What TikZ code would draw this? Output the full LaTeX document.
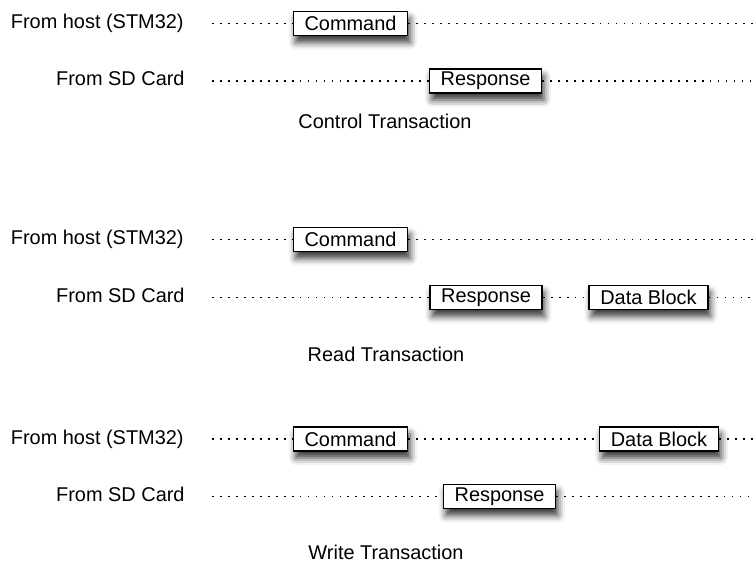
\documentclass[tikz,border=0pt]{standalone}
\usepackage{fontspec}
\setmainfont{Liberation Sans}
\usetikzlibrary{shadows.blur}

\begin{document}
\begin{tikzpicture}[
    x=0.5bp, y=-0.5bp,
    font=\fontsize{10}{12}\selectfont,
    msg/.style={rectangle, draw=black, line width=0.75pt, fill=white, minimum height=12bp, inner xsep=5.6bp, inner ysep=1bp,
      blur shadow={shadow xshift=1.2pt, shadow yshift=-3.5pt, shadow blur radius=3.5pt, shadow opacity=80}},
    wire/.style={draw=black, line width=0.75pt, dash pattern=on 0.9pt off 3.1pt},
    who/.style={anchor=base east, inner sep=0pt},
    ttl/.style={anchor=base, inner sep=0pt},
  ]
  \useasboundingbox (0,0) rectangle (755,566);
  % ------------------------------------------------------------------ Control transaction
  \begin{scope}[shift={(0,23.5)}]
    \node[who] (host1) at (184,5) {From host (STM32)};
    \node[who] (card1) at (185,62.5) {From SD Card};
    \coordinate (h1a) at (212,0);
    \coordinate (h1b) at (755,0);
    \coordinate (s1a) at (212,57.5);
    \coordinate (s1b) at (755,57.5);
    \node[msg] (cmd1) at (350.5,0) {Command};
    \node[msg] (rsp1) at (485.5,57.5) {Response};
    \draw[wire] (h1a) -- (cmd1) -- (h1b);
    \draw[wire] (s1a) -- (rsp1) -- (s1b);
    \node[ttl] (ctl) at (385,105.5) {Control Transaction};
  \end{scope}
  % ------------------------------------------------------------------ Read transaction
  \begin{scope}[shift={(0,239.5)}]
    \node[who] (host2) at (184,5) {From host (STM32)};
    \node[who] (card2) at (185,63) {From SD Card};
    \coordinate (h2a) at (212,0);
    \coordinate (h2b) at (755,0);
    \coordinate (s2a) at (212,58);
    \coordinate (s2b) at (755,58);
    \node[msg] (cmd2) at (350.5,0) {Command};
    \node[msg] (rsp2) at (486,58) {Response};
    \node[msg] (dat2) at (648.5,58) {Data Block};
    \draw[wire] (h2a) -- (cmd2) -- (h2b);
    \draw[wire] (s2a) -- (rsp2) -- (dat2) -- (s2b);
    \node[ttl] (rd) at (386,122.5) {Read Transaction};
  \end{scope}
  % ------------------------------------------------------------------ Write transaction
  \begin{scope}[shift={(0,439)}]
    \node[who] (host3) at (184,5) {From host (STM32)};
    \node[who] (card3) at (185,62.5) {From SD Card};
    \coordinate (h3a) at (212,0);
    \coordinate (h3b) at (755,0);
    \coordinate (s3a) at (212,57.5);
    \coordinate (s3b) at (755,57.5);
    \node[msg] (cmd3) at (350.5,0) {Command};
    \node[msg] (dat3) at (659,0) {Data Block};
    \node[msg] (rsp3) at (499.5,57.5) {Response};
    \draw[wire] (h3a) -- (cmd3) -- (dat3) -- (h3b);
    \draw[wire] (s3a) -- (rsp3) -- (s3b);
    \node[ttl] (wr) at (386,120) {Write Transaction};
  \end{scope}
\end{tikzpicture}
\end{document}
